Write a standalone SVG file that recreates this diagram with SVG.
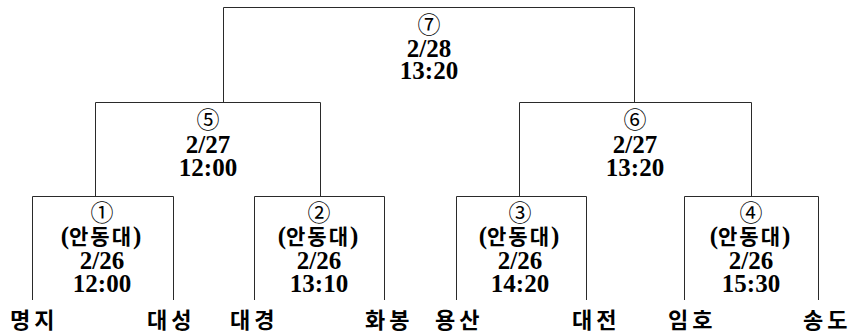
<svg xmlns="http://www.w3.org/2000/svg" width="857" height="336" viewBox="0 0 857 336">
<style>
.ln{fill:none;stroke:#2a2a2a;stroke-width:1}
</style>
<rect width="857" height="336" fill="#fff"/>
<g id="connectors">
<path class="ln" d="M223.5,102 V7.5 H634.5 V102"/>
<path class="ln" d="M95.5,196 V102.5 H320.5 V196"/>
<path class="ln" d="M519.5,196 V102.5 H751.5 V196"/>
<path class="ln" d="M32.5,300 V196.5 H173.5 V300"/>
<path class="ln" d="M254.5,300 V196.5 H384.5 V300"/>
<path class="ln" d="M456.5,300 V196.5 H586.5 V300"/>
<path class="ln" d="M684.5,300 V196.5 H818.5 V300"/>
</g>
<g id="match7" text-anchor="middle" fill="#000">
<text font-family="Noto Sans CJK KR" font-size="23" x="429" y="33">⑦</text>
<text font-family="Liberation Serif" font-weight="700" font-size="25" x="429" y="57">2/28</text>
<text font-family="Liberation Serif" font-weight="700" font-size="25" x="429" y="79">13:20</text>
</g>
<g id="match5" text-anchor="middle" fill="#000">
<text font-family="Noto Sans CJK KR" font-size="23" x="208" y="128">⑤</text>
<text font-family="Liberation Serif" font-weight="700" font-size="25" x="208" y="153">2/27</text>
<text font-family="Liberation Serif" font-weight="700" font-size="25" x="208" y="176">12:00</text>
</g>
<g id="match6" text-anchor="middle" fill="#000">
<text font-family="Noto Sans CJK KR" font-size="23" x="635" y="128">⑥</text>
<text font-family="Liberation Serif" font-weight="700" font-size="25" x="635" y="153">2/27</text>
<text font-family="Liberation Serif" font-weight="700" font-size="25" x="635" y="176">13:20</text>
</g>
<g id="match1" text-anchor="middle" fill="#000">
<text font-family="Noto Sans CJK KR" font-size="23" x="102" y="221">①</text>
<text font-family="Liberation Serif" font-weight="700" font-size="25" x="101" y="244">(<tspan font-family="Noto Sans CJK KR" font-size="21" letter-spacing="2">안동대</tspan>)</text>
<text font-family="Liberation Serif" font-weight="700" font-size="25" x="102" y="269">2/26</text>
<text font-family="Liberation Serif" font-weight="700" font-size="25" x="102" y="292">12:00</text>
</g>
<g id="match2" text-anchor="middle" fill="#000">
<text font-family="Noto Sans CJK KR" font-size="23" x="319" y="221">②</text>
<text font-family="Liberation Serif" font-weight="700" font-size="25" x="318" y="244">(<tspan font-family="Noto Sans CJK KR" font-size="21" letter-spacing="2">안동대</tspan>)</text>
<text font-family="Liberation Serif" font-weight="700" font-size="25" x="319" y="269">2/26</text>
<text font-family="Liberation Serif" font-weight="700" font-size="25" x="319" y="292">13:10</text>
</g>
<g id="match3" text-anchor="middle" fill="#000">
<text font-family="Noto Sans CJK KR" font-size="23" x="520" y="221">③</text>
<text font-family="Liberation Serif" font-weight="700" font-size="25" x="519" y="244">(<tspan font-family="Noto Sans CJK KR" font-size="21" letter-spacing="2">안동대</tspan>)</text>
<text font-family="Liberation Serif" font-weight="700" font-size="25" x="520" y="269">2/26</text>
<text font-family="Liberation Serif" font-weight="700" font-size="25" x="520" y="292">14:20</text>
</g>
<g id="match4" text-anchor="middle" fill="#000">
<text font-family="Noto Sans CJK KR" font-size="23" x="751" y="221">④</text>
<text font-family="Liberation Serif" font-weight="700" font-size="25" x="750" y="244">(<tspan font-family="Noto Sans CJK KR" font-size="21" letter-spacing="2">안동대</tspan>)</text>
<text font-family="Liberation Serif" font-weight="700" font-size="25" x="751" y="269">2/26</text>
<text font-family="Liberation Serif" font-weight="700" font-size="25" x="751" y="292">15:30</text>
</g>
<g id="teams" font-family="Noto Sans CJK KR" font-weight="700" font-size="22" letter-spacing="4" fill="#000">
<g id="team-myeongji"><text x="10" y="328">명지</text></g>
<g id="team-daeseong"><text x="147" y="328">대성</text></g>
<g id="team-daegyeong"><text x="230" y="328">대경</text></g>
<g id="team-hwabong"><text x="365" y="328">화봉</text></g>
<g id="team-yongsan"><text x="435" y="328">용산</text></g>
<g id="team-daejeon"><text x="572" y="328">대전</text></g>
<g id="team-imho"><text x="668" y="328">임호</text></g>
<g id="team-songdo"><text x="803" y="328">송도</text></g>
</g>
</svg>
